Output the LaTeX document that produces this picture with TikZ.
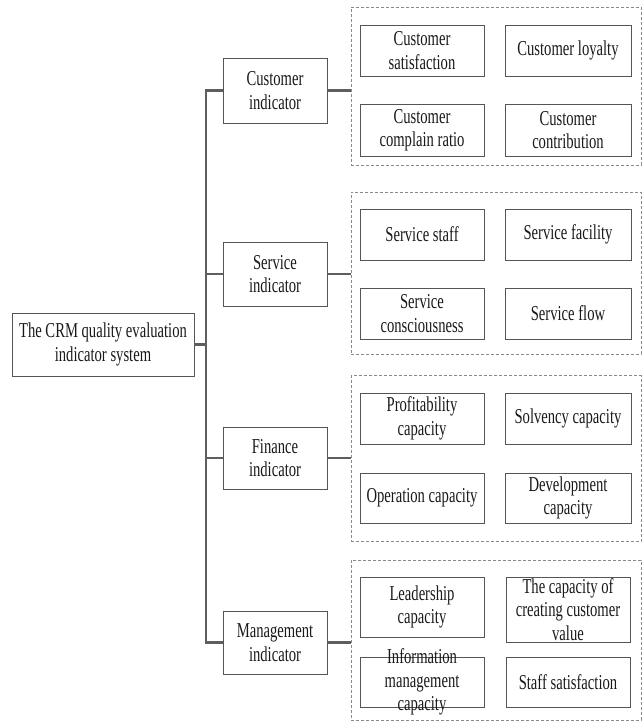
\documentclass[tikz,border=0pt]{standalone}
\usepackage{fontspec}
\setmainfont{Liberation Serif}[FakeStretch=0.69]
\definecolor{boxgray}{HTML}{555555}
\definecolor{linegray}{HTML}{5E5E5E}
\definecolor{dashgray}{HTML}{8A8A8A}
\begin{document}
\begin{tikzpicture}[x=1pt,y=-1pt,
  txt/.style={font=\fontsize{21.2}{23.5}\selectfont, align=center, text=black!90},
  box/.style={txt, draw=boxgray, line width=0.9pt, inner sep=0pt, minimum width=#1},
  box/.default=124pt,
  grp/.style={draw=dashgray, line width=0.8pt, dash pattern=on 3pt off 2pt, inner sep=0pt, minimum width=290pt},
  conn/.style={draw=linegray, line width=2.2pt}]
\useasboundingbox (0,0) rectangle (644,721);

% root
\node[box=182pt, minimum height=63pt] (root) at (103,344.5) {The CRM quality evaluation\\indicator system};

% indicators
\node[box=104pt, minimum height=65pt] (ci) at (275,90.5) {Customer\\indicator};
\node[box=104pt, minimum height=64pt] (si) at (275,274) {Service\\indicator};
\node[box=104pt, minimum height=62pt] (fi) at (275,458) {Finance\\indicator};
\node[box=104pt, minimum height=63pt] (mi) at (275,642.5) {Management\\indicator};

% groups
\node[grp, minimum height=158pt] (g1) at (496,86) {};
\node[grp, minimum height=162pt] (g2) at (496,273) {};
\node[grp, minimum height=166pt] (g3) at (496,458.5) {};
\node[grp, minimum height=160pt] (g4) at (496,640) {};

% group 1
\node[box=124pt, minimum height=51pt] (c1) at (422,50.5) {Customer\\satisfaction};
\node[box=126pt, minimum height=51pt] (c2) at (568,50.5) {Customer loyalty};
\node[box=124pt, minimum height=52pt] (c3) at (422,130) {Customer\\complain ratio};
\node[box=126pt, minimum height=52pt] (c4) at (568,130) {Customer\\contribution};

% group 2
\node[box=124pt, minimum height=51pt] (s1) at (422,234.5) {Service staff};
\node[box=126pt, minimum height=51pt] (s2) at (568,234.5) {Service facility};
\node[box=124pt, minimum height=51pt] (s3) at (422,313.5) {Service\\consciousness};
\node[box=126pt, minimum height=51pt] (s4) at (568,313.5) {Service flow};

% group 3
\node[box=124pt, minimum height=51pt] (f1) at (422,418.5) {Profitability\\capacity};
\node[box=126pt, minimum height=51pt] (f2) at (568,418.5) {Solvency capacity};
\node[box=124pt, minimum height=50pt] (f3) at (422,498) {Operation capacity};
\node[box=126pt, minimum height=50pt] (f4) at (568,498) {Development\\capacity};

% group 4
\node[box=124pt, minimum height=60pt] (m1) at (422,607) {Leadership\\capacity};
\node[box=124pt, minimum height=65pt,
  label={[txt]center:The capacity of\\creating customer\\value}] (m2) at (568,609.5) {};
\node[box=124pt, minimum height=50pt,
  label={[txt]center:Information\\management\\capacity}] (m3) at (422,682) {};
\node[box=124pt, minimum height=50pt] (m4) at (568,682) {Staff satisfaction};

% trunk
\coordinate (tt) at (206,90.5);
\coordinate (tb) at (206,642.5);
\draw[conn, line cap=rect] (tt) -- (tb);
\draw[conn] (root.east) -- (root.east -| tt);
\draw[conn] (ci.west) -- (ci.west -| tt);
\draw[conn] (si.west) -- (si.west -| tt);
\draw[conn] (fi.west) -- (fi.west -| tt);
\draw[conn] (mi.west) -- (mi.west -| tt);

% indicator to group
\draw[conn] (ci.east) -- (ci.east -| g1.west);
\draw[conn] (si.east) -- (si.east -| g2.west);
\draw[conn] (fi.east) -- (fi.east -| g3.west);
\draw[conn] (mi.east) -- (mi.east -| g4.west);
\end{tikzpicture}
\end{document}
